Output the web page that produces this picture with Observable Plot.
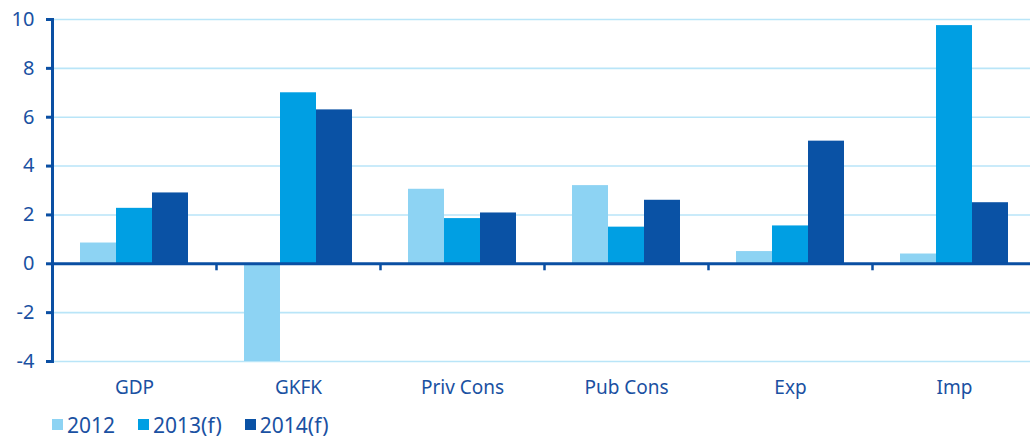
<!DOCTYPE html>
<html>
<head>
<meta charset="utf-8">
<script src="https://cdn.jsdelivr.net/npm/d3@7"></script>
<script src="https://cdn.jsdelivr.net/npm/@observablehq/plot@0.6"></script>
<style>
  html, body { margin: 0; padding: 0; background: #fff; }
  body { width: 1030px; height: 437px; overflow: hidden; font-family: "Noto Sans", sans-serif; }
  #legend { display: flex; align-items: center; gap: 23px; padding-left: 52px; height: 32px; padding-top: 7px; box-sizing: border-box; color: #1a51a2; font-size: 21px; }
  #legend .item { display: flex; align-items: center; gap: 4px; }
  #legend .swatch { width: 11px; height: 11px; display: inline-block; }
</style>
</head>
<body>
<div id="chart"></div>
<div id="legend"></div>
<script>
// Growth components, % change
const categories = ["GDP", "GKFK", "Priv Cons", "Pub Cons", "Exp", "Imp"];
const series = ["2012", "2013(f)", "2014(f)"];
const values2012 = [0.85, -4.0, 3.05, 3.2, 0.5, 0.4];
const values2013 = [2.27, 7.0, 1.85, 1.5, 1.55, 9.75];
const values2014 = [2.9, 6.3, 2.08, 2.6, 5.02, 2.5];
const yTicks = [-4, -2, 0, 2, 4, 6, 8, 10];
const seriesColors = ["#8dd3f3", "#009fe3", "#0a52a5"];

const axisBlue = "#0a4fa3";
const textBlue = "#1a51a2";
const gridBlue = "#b9e5f8";

const columns = [values2012, values2013, values2014];
const rows = [];
categories.forEach((c, i) => {
  series.forEach((s, j) => rows.push({category: c, series: s, value: columns[j][i]}));
});

const halfBand = (1036 - 52) / categories.length / 2;

const chart = Plot.plot({
  width: 1030,
  height: 405,
  marginLeft: 52,
  marginRight: 0,
  marginTop: 19,
  marginBottom: 44,
  style: {fontFamily: "'Noto Sans', sans-serif", background: "white", overflow: "visible"},
  fx: {domain: categories, range: [52, 1036], padding: 0, axis: null, label: null},
  x: {domain: series, paddingInner: 0, paddingOuter: 0.75, axis: null},
  y: {domain: [-4, 10], axis: null, label: null},
  color: {domain: series, range: seriesColors},
  marks: [
    // light horizontal grid
    Plot.ruleY(yTicks.filter(t => t !== 0), {stroke: gridBlue, strokeWidth: 1.6}),
    // bars
    Plot.barY(rows, {fx: "category", x: "series", y: "value", fill: "series"}),
    // zero baseline
    Plot.ruleY([0], {stroke: axisBlue, strokeWidth: 3}),
    // category separator ticks hanging below the baseline
    Plot.ruleX(categories.slice(1), {fx: d => d, x: null, y1: 0, y2: 0, insetBottom: -7, dx: -halfBand, stroke: axisBlue, strokeWidth: 2.5}),
    // vertical value axis line, drawn once across the whole plot
    Plot.frame({anchor: "left", facet: "super", stroke: axisBlue, strokeWidth: 3}),
    Plot.axisY(yTicks, {
      tickSize: 6, tickPadding: 12, fontSize: 20, stroke: axisBlue, strokeWidth: 3,
      fill: textBlue, tickFormat: d => String(d), label: null
    }),
    Plot.axisFx({anchor: "bottom", tickSize: 0, tickPadding: 19, fontSize: 19, fill: textBlue, label: null})
  ]
});
document.getElementById("chart").appendChild(chart);

// legend below the chart
const legend = document.getElementById("legend");
series.forEach((s, i) => {
  const item = document.createElement("span");
  item.className = "item";
  const sw = document.createElement("span");
  sw.className = "swatch";
  sw.style.background = seriesColors[i];
  const label = document.createElement("span");
  label.textContent = s;
  item.appendChild(sw);
  item.appendChild(label);
  legend.appendChild(item);
});
</script>
</body>
</html>
